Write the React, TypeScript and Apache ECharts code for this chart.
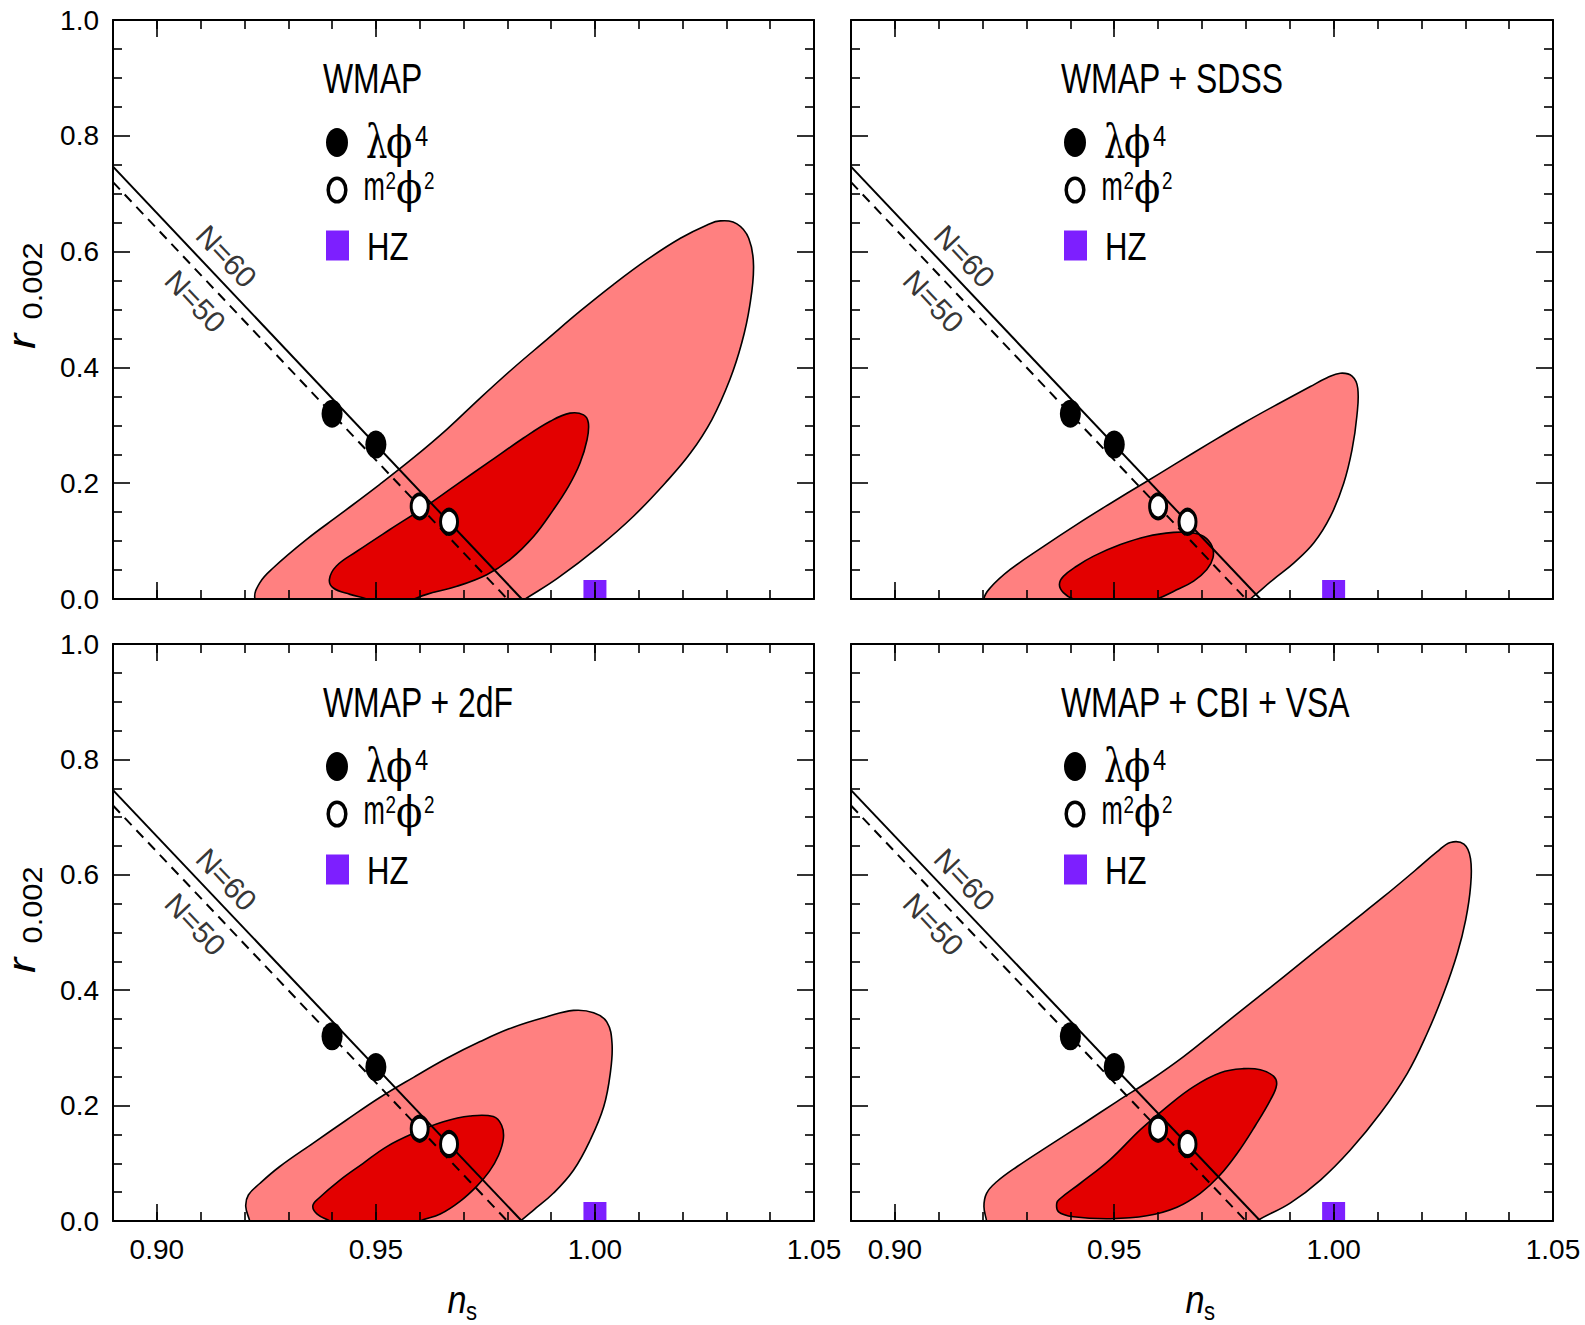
import React, { useEffect, useRef } from 'react';
import * as echarts from 'echarts';

// ---------------- data ----------------
const PANEL_TITLES = ['WMAP', 'WMAP + SDSS', 'WMAP + 2dF', 'WMAP + CBI + VSA'];
const X_MAJOR_TICKS = [0.9, 0.95, 1.0, 1.05];
const X_MIN = 0.89;
const X_MAX = 1.05;
const Y_MIN = 0;
const Y_MAX = 1;

const N60_LINE = [[0.89, 0.7467], [0.9833, 0]];
const N50_LINE = [[0.89, 0.72], [0.98, 0]];
const N60_LABEL_AT = [[0.9159, 0.5917]];
const N50_LABEL_AT = [[0.9088, 0.514]];
const LAMBDA_PHI4 = [[0.94, 0.32], [0.95, 0.2667]];
const M2_PHI2 = [[0.96, 0.16], [0.9667, 0.1333]];
const HZ_POINT = [[1.0, 0]];

// contour outlines (n_s, r); points with r < 0 only continue the outline below the axis, where it is clipped
const OUTER_WMAP = [
  [0.9224, 0], [0.9235, 0.028], [0.9266, 0.054], [0.9342, 0.103], [0.9418, 0.146], [0.9509, 0.198],
  [0.9586, 0.244], [0.9662, 0.293], [0.9738, 0.347], [0.9814, 0.399], [0.989, 0.448], [0.9966, 0.497],
  [1.0042, 0.543], [1.0119, 0.586], [1.0195, 0.623], [1.0256, 0.646], [1.0286, 0.653], [1.0324, 0.648],
  [1.0351, 0.623], [1.0362, 0.575], [1.0353, 0.505], [1.0335, 0.442], [1.0308, 0.379], [1.0267, 0.31],
  [1.0218, 0.252], [1.016, 0.2], [1.0088, 0.143], [1.001, 0.091], [0.9915, 0.036], [0.9841, 0],
  [0.978, -0.03], [0.925, -0.03],
];
const INNER_WMAP = [
  [0.9479, 0], [0.9441, 0.008], [0.9403, 0.019], [0.9394, 0.034], [0.941, 0.057], [0.9456, 0.082],
  [0.9532, 0.12], [0.9608, 0.157], [0.9685, 0.198], [0.9761, 0.238], [0.9837, 0.278], [0.9898, 0.307],
  [0.9943, 0.321], [0.9974, 0.318], [0.9985, 0.304], [0.9982, 0.275], [0.9966, 0.235], [0.994, 0.195],
  [0.9905, 0.154], [0.986, 0.108], [0.9806, 0.068], [0.9753, 0.042], [0.9685, 0.022], [0.9616, 0.008],
  [0.9586, 0], [0.955, -0.01], [0.951, -0.01],
];
const OUTER_SDSS = [
  [0.9203, 0], [0.9217, 0.019], [0.9263, 0.051], [0.9339, 0.091], [0.9415, 0.129], [0.9491, 0.165],
  [0.9567, 0.2], [0.9643, 0.235], [0.9719, 0.27], [0.9795, 0.304], [0.9871, 0.336], [0.9947, 0.367],
  [0.9985, 0.382], [1.0015, 0.39], [1.0042, 0.385], [1.0055, 0.364], [1.0053, 0.316], [1.0042, 0.258],
  [1.0023, 0.2], [0.9993, 0.143], [0.9955, 0.097], [0.9909, 0.062], [0.9863, 0.034], [0.981, 0],
  [0.976, -0.03], [0.921, -0.03],
];
const INNER_SDSS = [
  [0.9407, 0], [0.9384, 0.011], [0.9375, 0.025], [0.9384, 0.039], [0.9415, 0.057], [0.9453, 0.074],
  [0.9514, 0.094], [0.9574, 0.108], [0.9635, 0.115], [0.9673, 0.115], [0.9704, 0.108], [0.9723, 0.091],
  [0.9725, 0.071], [0.9711, 0.051], [0.9681, 0.031], [0.9635, 0.013], [0.9597, 0], [0.95, -0.02],
];
const OUTER_2DF = [
  [0.9212, 0], [0.9203, 0.025], [0.9209, 0.045], [0.9235, 0.065], [0.928, 0.094], [0.9357, 0.135],
  [0.9433, 0.175], [0.9509, 0.214], [0.9586, 0.249], [0.9662, 0.282], [0.9738, 0.311], [0.9814, 0.336],
  [0.989, 0.354], [0.9951, 0.365], [0.9997, 0.361], [1.0027, 0.345], [1.0039, 0.308], [1.0035, 0.256],
  [1.002, 0.198], [0.9989, 0.14], [0.9951, 0.088], [0.9905, 0.048], [0.986, 0.019], [0.983, 0],
  [0.978, -0.03], [0.922, -0.03],
];
const INNER_2DF = [
  [0.9395, 0], [0.9366, 0.012], [0.9356, 0.026], [0.9369, 0.039], [0.9418, 0.071], [0.9471, 0.1],
  [0.9525, 0.129], [0.9586, 0.152], [0.9654, 0.172], [0.9715, 0.182], [0.9768, 0.181], [0.9787, 0.166],
  [0.9791, 0.143], [0.978, 0.114], [0.9759, 0.086], [0.973, 0.06], [0.9692, 0.034], [0.9647, 0.012],
  [0.9601, 0], [0.955, -0.02], [0.944, -0.02],
];
const OUTER_CBI = [
  [0.9209, 0], [0.9203, 0.025], [0.9209, 0.048], [0.9232, 0.068], [0.9278, 0.094], [0.9354, 0.132],
  [0.943, 0.169], [0.9506, 0.207], [0.9582, 0.244], [0.9658, 0.285], [0.9734, 0.331], [0.981, 0.377],
  [0.9886, 0.423], [0.9962, 0.47], [1.0038, 0.516], [1.0114, 0.562], [1.0185, 0.607], [1.0236, 0.64],
  [1.0266, 0.656], [1.0297, 0.653], [1.0312, 0.628], [1.0312, 0.579], [1.0301, 0.522], [1.0282, 0.464],
  [1.0251, 0.395], [1.0213, 0.325], [1.0168, 0.256], [1.0107, 0.187], [1.0038, 0.123], [0.997, 0.071],
  [0.9901, 0.031], [0.9825, 0], [0.977, -0.03], [0.9215, -0.03],
];
const INNER_CBI = [
  [0.9369, 0.031], [0.9373, 0.016], [0.9407, 0.0075], [0.9491, 0.004], [0.9574, 0.009], [0.9643, 0.024],
  [0.9696, 0.048], [0.9738, 0.077], [0.978, 0.117], [0.9822, 0.166], [0.9856, 0.21], [0.987, 0.236],
  [0.9863, 0.251], [0.9833, 0.262], [0.9795, 0.264], [0.9742, 0.257], [0.9681, 0.233], [0.962, 0.198],
  [0.9559, 0.158], [0.949, 0.106], [0.9422, 0.065], [0.9377, 0.039],
];

const CONTOURS = [
  [OUTER_WMAP, INNER_WMAP],
  [OUTER_SDSS, INNER_SDSS],
  [OUTER_2DF, INNER_2DF],
  [OUTER_CBI, INNER_CBI],
];

// ---------------- styles / layout ----------------
const SANS = "'Liberation Sans', Arial, sans-serif";
const SERIF = "'DejaVu Serif', 'Liberation Serif', serif";
const OUTER_FILL = '#ff8080';
const INNER_FILL = '#e30000';
const HZ_FILL = '#7d1fff';

const PANELS = [
  { left: 113, top: 20, width: 701, height: 579, showX: false, showY: true },
  { left: 851, top: 20, width: 702, height: 579, showX: false, showY: false },
  { left: 113, top: 644, width: 701, height: 577, showX: true, showY: true },
  { left: 851, top: 644, width: 702, height: 577, showX: true, showY: false },
];

function buildOption() {
  const grid: any[] = [];
  const xAxis: any[] = [];
  const yAxis: any[] = [];
  const series: any[] = [];
  const graphic: any[] = [];

  const axisLine = { show: true, lineStyle: { color: '#000', width: 2 } };
  const tickStyle = { color: '#000', width: 1.6 };

  PANELS.forEach((p, i) => {
    grid.push({ left: p.left, top: p.top, width: p.width, height: p.height, show: false });
    const xBase = {
      gridIndex: i, type: 'value', min: X_MIN, max: X_MAX, z: 10,
      splitLine: { show: false },
    };
    xAxis.push({
      ...xBase, position: 'bottom', axisLine,
      axisTick: { show: true, inside: true, length: 17, customValues: X_MAJOR_TICKS, lineStyle: tickStyle },
      axisLabel: {
        show: p.showX, customValues: X_MAJOR_TICKS, margin: 14, color: '#000',
        fontSize: 28, fontFamily: SANS, formatter: (v: number) => v.toFixed(2),
      },
    });
    xAxis.push({
      ...xBase, position: 'bottom', interval: 0.01, axisLine: { show: false },
      axisTick: { show: true, inside: true, length: 9, lineStyle: tickStyle },
      axisLabel: { show: false },
    });
    xAxis.push({
      ...xBase, position: 'top', axisLine,
      axisTick: { show: true, inside: true, length: 17, customValues: X_MAJOR_TICKS, lineStyle: tickStyle },
      axisLabel: { show: false },
    });
    xAxis.push({
      ...xBase, position: 'top', interval: 0.01, axisLine: { show: false },
      axisTick: { show: true, inside: true, length: 9, lineStyle: tickStyle },
      axisLabel: { show: false },
    });
    const yBase = {
      gridIndex: i, type: 'value', min: Y_MIN, max: Y_MAX, interval: 0.2, z: 10,
      splitLine: { show: false }, axisLine,
      axisTick: { show: true, inside: true, length: 17, lineStyle: tickStyle },
      minorTick: { show: true, splitNumber: 4, length: 9, lineStyle: tickStyle },
    };
    yAxis.push({
      ...yBase, position: 'left',
      axisLabel: {
        show: p.showY, margin: 14, color: '#000', fontSize: 28, fontFamily: SANS,
        formatter: (v: number) => v.toFixed(1),
      },
    });
    yAxis.push({ ...yBase, position: 'right', axisLabel: { show: false } });

    const xi = i * 4;
    const yi = i * 2;
    const [outer, inner] = CONTOURS[i];
    const poly = (pts: number[][], fill: string, z: number) => ({
      type: 'custom', xAxisIndex: xi, yAxisIndex: yi, clip: true, z, silent: true,
      data: [[0.97, 0.1]],
      renderItem: (_params: any, api: any) => ({
        type: 'polygon',
        shape: { points: pts.map((q) => api.coord(q)), smooth: 0.4 },
        style: { fill, stroke: '#000', lineWidth: 1.6 },
      }),
    });
    series.push(poly(outer, OUTER_FILL, 1));
    series.push(poly(inner, INNER_FILL, 2));
    series.push({
      type: 'line', xAxisIndex: xi, yAxisIndex: yi, data: N60_LINE, symbol: 'none', z: 3, silent: true,
      lineStyle: { color: '#000', width: 2 },
    });
    series.push({
      type: 'line', xAxisIndex: xi, yAxisIndex: yi, data: N50_LINE, symbol: 'none', z: 3, silent: true,
      lineStyle: { color: '#000', width: 2, type: [10, 7] },
    });
    series.push({
      type: 'custom', xAxisIndex: xi, yAxisIndex: yi, z: 4, silent: true, data: HZ_POINT,
      renderItem: (_params: any, api: any) => {
        const c = api.coord([api.value(0), api.value(1)]);
        return { type: 'rect', shape: { x: c[0] - 11.5, y: c[1] - 19, width: 23, height: 19 }, style: { fill: HZ_FILL } };
      },
    });
    series.push({
      type: 'scatter', xAxisIndex: xi, yAxisIndex: yi, data: LAMBDA_PHI4, z: 5, silent: true,
      symbol: 'circle', symbolSize: [21, 28], itemStyle: { color: '#000', opacity: 1 },
    });
    series.push({
      type: 'scatter', xAxisIndex: xi, yAxisIndex: yi, data: M2_PHI2, z: 5, silent: true,
      symbol: 'circle', symbolSize: [17, 24],
      itemStyle: { color: '#fff', borderColor: '#000', borderWidth: 3.5, opacity: 1 },
    });
    const lineLabel = (data: number[][], text: string) => ({
      type: 'scatter', xAxisIndex: xi, yAxisIndex: yi, data, z: 6, silent: true,
      symbolSize: 1, itemStyle: { color: 'rgba(0,0,0,0)' },
      label: {
        show: true, position: 'inside', formatter: text, rotate: -46.6,
        fontSize: 30, fontFamily: SANS, color: '#000', textBorderWidth: 0,
      },
    });
    series.push(lineLabel(N60_LABEL_AT, 'N=60'));
    series.push(lineLabel(N50_LABEL_AT, 'N=50'));

    const t = (text: string, x: number, y: number, fontSize: number, fontFamily: string, extra: any = {}) => {
      const { style, ...rest } = extra;
      return {
        type: 'text', x, y, ...rest,
        style: { text, fontSize, fontFamily, fill: '#000', align: 'left', verticalAlign: 'middle', ...(style || {}) },
      };
    };
    graphic.push({
      type: 'group', x: p.left, y: p.top, z: 20, silent: true,
      children: [
        t(PANEL_TITLES[i], 210, 58.4, 42, SANS, { scaleX: 0.76 }),
        { type: 'ellipse', shape: { cx: 224, cy: 122.6, rx: 11, ry: 14.5 }, style: { fill: '#000' } },
        t('λ', 253, 121.5, 47, SERIF, { scaleX: 0.72 }),
        t('ϕ', 273, 122, 45, SERIF, { scaleX: 0.86 }),
        t('4', 302, 115.8, 29, SANS, { scaleX: 0.82 }),
        { type: 'ellipse', shape: { cx: 224, cy: 170, rx: 8.8, ry: 11.8 }, style: { fill: '#fff', stroke: '#000', lineWidth: 3.5 } },
        t('m', 250.5, 166.1, 40, SANS, { scaleX: 0.64 }),
        t('2', 272.5, 160.5, 23, SANS, { scaleX: 0.82 }),
        t('ϕ', 283, 168.5, 43, SERIF, { scaleX: 0.9 }),
        t('2', 311, 160.5, 23, SANS, { scaleX: 0.82 }),
        { type: 'rect', shape: { x: 213, y: 210.5, width: 23, height: 30 }, style: { fill: HZ_FILL } },
        t('HZ', 254, 227.3, 38, SANS, { scaleX: 0.82 }),
      ],
    });
    if (p.showX) {
      graphic.push({
        type: 'group', x: p.left, y: p.top, z: 20, silent: true,
        children: [
          t('n', 334.6, 656.2, 38, SANS, { scaleX: 0.9, style: { fontStyle: 'italic' } }),
          t('s', 353, 667, 26, SANS, { scaleX: 0.85 }),
        ],
      });
    }
    if (p.showY) {
      graphic.push({
        type: 'group', x: 0, y: p.top, z: 20, silent: true,
        children: [
          t('r', 22, 329, 38, SANS, { rotation: Math.PI / 2, scaleX: 1.2, style: { fontStyle: 'italic' } }),
          t('0.002', 32.3, 299.4, 27, SANS, { rotation: Math.PI / 2, scaleX: 1.14 }),
        ],
      });
    }
  });

  return { animation: false, backgroundColor: '#fff', grid, xAxis, yAxis, series, graphic };
}

const App = () => {
  const ref = useRef<HTMLDivElement>(null);
  useEffect(() => {
    const chart = echarts.init(ref.current as HTMLDivElement, null, { renderer: 'svg' });
    chart.setOption(buildOption() as any);
    return () => chart.dispose();
  }, []);
  return (
    <div
      ref={ref}
      style={{ position: 'absolute', left: 0, top: 0, width: 1585, height: 1325, background: '#fff' }}
    />
  );
};

export default App;
